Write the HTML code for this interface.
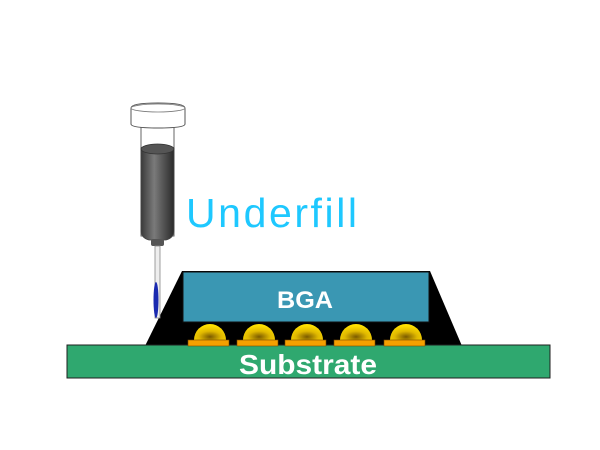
<!DOCTYPE html>
<html><head><meta charset="utf-8"><style>body{margin:0;background:#fff}svg{display:block}</style></head>
<body>
<svg width="600" height="450" viewBox="0 0 600 450" xmlns="http://www.w3.org/2000/svg">
<defs>
<linearGradient id="bar" x1="0" x2="1"><stop offset="0" stop-color="#3a3a3a"/><stop offset="0.4" stop-color="#7a7a7a"/><stop offset="1" stop-color="#2a2a2a"/></linearGradient>
<radialGradient id="ball" cx="0.5" cy="0.8" r="0.7"><stop offset="0" stop-color="#7a5a00"/><stop offset="0.5" stop-color="#e0b800"/><stop offset="1" stop-color="#ffe000"/></radialGradient>
</defs>
<polygon points="145,346 182,271 430,271 462,346" fill="#000"/>
<rect x="67" y="345" width="483" height="33" fill="#2fa86f" stroke="#1f1f1f" stroke-width="1"/>
<text x="308" y="374" font-family="Liberation Sans, sans-serif" font-weight="bold" font-size="28" fill="#fff" text-anchor="middle" textLength="138" lengthAdjust="spacingAndGlyphs">Substrate</text>
<rect x="183" y="272" width="246" height="50" fill="#3a97b3" stroke="#111" stroke-width="1"/>
<text x="305" y="308" font-family="Liberation Sans, sans-serif" font-weight="bold" font-size="24" fill="#fff" text-anchor="middle" textLength="56" lengthAdjust="spacingAndGlyphs">BGA</text>
<g>
<path d="M194,340 a16,16 0 0 1 32,0 z" fill="url(#ball)"/><rect x="188" y="340" width="41" height="6" fill="#f5a000" stroke="#7a4a00" stroke-width="0.6"/>
<path d="M243,340 a16,16 0 0 1 32,0 z" fill="url(#ball)"/><rect x="237" y="340" width="41" height="6" fill="#f5a000" stroke="#7a4a00" stroke-width="0.6"/>
<path d="M291,340 a16,16 0 0 1 32,0 z" fill="url(#ball)"/><rect x="285" y="340" width="41" height="6" fill="#f5a000" stroke="#7a4a00" stroke-width="0.6"/>
<path d="M340,340 a16,16 0 0 1 32,0 z" fill="url(#ball)"/><rect x="334" y="340" width="41" height="6" fill="#f5a000" stroke="#7a4a00" stroke-width="0.6"/>
<path d="M390,340 a16,16 0 0 1 32,0 z" fill="url(#ball)"/><rect x="384" y="340" width="41" height="6" fill="#f5a000" stroke="#7a4a00" stroke-width="0.6"/>
</g>
<rect x="141" y="126" width="33" height="110" fill="#fff" stroke="#666" stroke-width="1"/>
<path d="M141,148 L174,148 L174,230 Q174,238 166,240 L149,240 Q141,238 141,230 Z" fill="url(#bar)" stroke="#444" stroke-width="0.8"/>
<ellipse cx="157.5" cy="149" rx="16.5" ry="5" fill="#555" stroke="#333" stroke-width="0.8"/>
<rect x="151" y="239" width="13" height="7" rx="2" fill="#555"/>
<rect x="155" y="246" width="5" height="72" fill="#eee" stroke="#888" stroke-width="0.8"/>
<ellipse cx="156" cy="300" rx="2.5" ry="18" fill="#1a2ab0"/>
<path d="M131,108 Q131,103 158,103 Q185,103 185,108 L185,124 Q185,128 158,128 Q131,128 131,124 Z" fill="#fff" stroke="#555" stroke-width="1"/>
<ellipse cx="158" cy="108" rx="27" ry="4" fill="none" stroke="#777" stroke-width="0.8"/>
<text x="186" y="227" font-family="Liberation Sans, sans-serif" font-size="41" fill="#1ec8ff" textLength="171" lengthAdjust="spacing">Underfill</text>
</svg>
</body></html>
